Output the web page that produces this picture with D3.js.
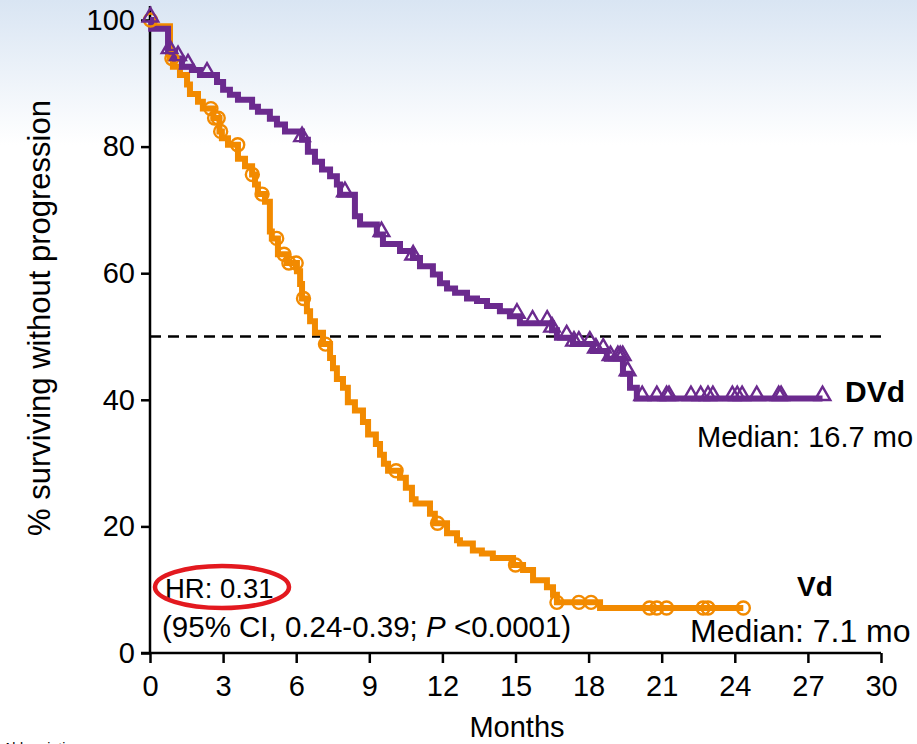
<!DOCTYPE html>
<html>
<head>
<meta charset="utf-8">
<script src="https://cdn.jsdelivr.net/npm/d3@7"></script>
<style>
  html, body { margin: 0; padding: 0; background: #fff; }
  svg { display: block; font-family: "Liberation Sans", Arial, sans-serif; }
</style>
</head>
<body>
<svg id="chart" width="917" height="744"></svg>
<script>
// ---------- DATA ----------
const xTicks = [0, 3, 6, 9, 12, 15, 18, 21, 24, 27, 30];
const yTicks = [0, 20, 40, 60, 80, 100];

// DVd step curve (months, % surviving without progression)
const dvdTimes  = [0, 0.05, 0.74, 1.03, 1.31, 1.72, 2.05, 2.75, 3.0, 3.28, 3.61, 4.19, 4.43, 4.92, 5.21, 5.54, 6.24, 6.48, 6.77, 7.06, 7.39, 7.67, 7.8, 8.41, 8.62, 9.31, 9.56, 10.26, 10.79, 11.08, 11.61, 11.9, 12.19, 12.52, 13.01, 13.42, 13.83, 14.36, 14.77, 15.18, 16.5, 16.7, 17.36, 18.18, 18.75, 19.41, 19.7, 19.98, 27.6];
const dvdValues = [100, 98.6, 95.0, 93.9, 92.6, 92.1, 91.3, 90.2, 89.0, 88.2, 87.4, 86.3, 85.5, 84.4, 83.5, 82.4, 81.1, 79.2, 77.6, 76.4, 75.3, 74.0, 72.4, 69.0, 67.7, 66.1, 64.6, 63.5, 62.4, 61.1, 59.8, 58.4, 57.6, 56.9, 56.0, 55.6, 54.8, 54.0, 53.2, 52.1, 51.0, 49.8, 48.8, 47.7, 46.5, 44.1, 41.9, 40.2, 40.2];
const dvdCensored = [0.02, 0.8, 1.15, 1.56, 2.34, 6.24, 8.0, 9.5, 10.8, 15.06, 15.7, 16.3, 16.5, 17.1, 17.4, 17.6, 18.05, 18.3, 18.6, 18.9, 19.2, 19.3, 19.4, 19.6, 20.2, 20.8, 21.2, 21.3, 22.2, 22.6, 22.9, 23.1, 23.9, 24.1, 24.3, 24.9, 25.8, 25.9, 27.6];

// Vd step curve
const vdTimes  = [0, 0.15, 0.82, 0.94, 1.23, 1.52, 1.64, 1.97, 2.17, 2.6, 2.85, 2.95, 3.2, 3.61, 3.9, 4.19, 4.31, 4.43, 4.72, 4.92, 5.0, 5.25, 5.62, 6.03, 6.16, 6.24, 6.44, 6.57, 6.77, 7.1, 7.39, 7.51, 7.67, 7.92, 8.12, 8.41, 8.74, 8.95, 9.27, 9.44, 9.6, 9.77, 10.26, 10.5, 10.75, 10.9, 11.49, 11.69, 12.19, 12.6, 12.72, 13.25, 13.62, 14.07, 14.9, 15.31, 15.72, 16.29, 16.54, 16.7, 18.47, 24.35];
const vdValues = [100, 99.0, 93.9, 92.6, 91.3, 89.8, 88.3, 87.1, 86.0, 84.5, 82.4, 81.3, 80.3, 78.1, 76.9, 75.6, 74.0, 72.5, 71.3, 66.6, 65.5, 63.0, 61.6, 60.3, 58.3, 56.0, 54.0, 52.4, 50.6, 48.8, 46.6, 45.0, 43.3, 41.9, 39.6, 38.3, 36.5, 34.5, 33.0, 31.3, 29.9, 28.8, 27.7, 26.1, 24.3, 23.6, 22.0, 20.5, 18.9, 17.8, 17.3, 16.2, 15.7, 15.0, 13.9, 13.1, 11.5, 10.4, 9.2, 8.0, 7.1, 7.1];
const vdCensored = [0.02, 0.9, 2.5, 2.65, 2.8, 2.9, 3.6, 4.2, 4.6, 5.2, 5.5, 5.7, 6.0, 6.3, 7.2, 10.1, 11.8, 15.0, 16.7, 17.6, 18.1, 20.5, 20.8, 21.2, 22.7, 22.9, 24.35];

const medianLevel = 50;

// ---------- LAYOUT ----------
const svg = d3.select("#chart");
const W = 917, H = 744;
const x = d3.scaleLinear().domain([0, 30]).range([150, 881]);
const y = d3.scaleLinear().domain([0, 100]).range([653, 20]);

const purple = "#6b2a8e";
const orange = "#f28a00";
const FS = 29;
const FONT = "Liberation Sans, Arial, sans-serif";

// background gradient
const defs = svg.append("defs");
const grad = defs.append("linearGradient").attr("id", "bg").attr("x1", 0).attr("y1", 0).attr("x2", 0).attr("y2", 1);
grad.append("stop").attr("offset", "0%").attr("stop-color", "#d9e5f3");
grad.append("stop").attr("offset", "100%").attr("stop-color", "#ffffff");
svg.append("rect").attr("x", 0).attr("y", 0).attr("width", W).attr("height", 145).attr("fill", "url(#bg)");

// median dashed line
svg.append("line")
  .attr("x1", x(0)).attr("x2", x(30))
  .attr("y1", y(medianLevel)).attr("y2", y(medianLevel))
  .attr("stroke", "#000").attr("stroke-width", 2.4).attr("stroke-dasharray", "11,7");

// axes
const yAxis = d3.axisLeft(y).tickValues(yTicks).tickSize(9).tickPadding(6);
const gy = svg.append("g").attr("transform", `translate(${x(0)},0)`).call(yAxis);
gy.select(".domain").remove();
gy.append("line").attr("x1", 0).attr("x2", 0).attr("y1", 6).attr("y2", y(0)).attr("stroke", "#000").attr("stroke-width", 2.5);
gy.selectAll(".tick line").attr("stroke", "#000").attr("stroke-width", 2.5);
gy.selectAll(".tick text").attr("font-size", FS).attr("fill", "#000").attr("font-family", FONT);

const xAxis = d3.axisBottom(x).tickValues(xTicks).tickSize(10).tickPadding(12);
const gx = svg.append("g").attr("transform", `translate(0,${y(0)})`).call(xAxis);
gx.select(".domain").remove();
gx.append("line").attr("x1", x(0) - 9).attr("x2", x(30)).attr("y1", 0).attr("y2", 0).attr("stroke", "#000").attr("stroke-width", 2.5);
gx.selectAll(".tick line").attr("stroke", "#000").attr("stroke-width", 2.5);
gx.selectAll(".tick text").attr("font-size", FS).attr("fill", "#000").attr("font-family", FONT);

// axis titles
svg.append("text").attr("x", 517).attr("y", 737).attr("text-anchor", "middle")
  .attr("font-size", FS).text("Months");
svg.append("text").attr("transform", "translate(50,318) rotate(-90)").attr("text-anchor", "middle")
  .attr("font-size", 31).text("% surviving without progression");

// step curves
function series(times, values) { return times.map((t, i) => ({ t, v: values[i] })); }
function valueAt(times, values, t) {
  let v = values[0];
  for (let i = 0; i < times.length; i++) { if (times[i] <= t) v = values[i]; }
  return v;
}
const line = d3.line().x(d => x(d.t)).y(d => y(d.v)).curve(d3.curveStepAfter);

function drawCurve(times, values, color) {
  svg.append("path").datum(series(times, values))
    .attr("fill", "none").attr("stroke", color).attr("stroke-width", 6)
    .attr("stroke-linejoin", "miter").attr("d", line);
}
drawCurve(vdTimes, vdValues, orange);
drawCurve(dvdTimes, dvdValues, purple);

// censor marks
svg.append("g").selectAll("circle").data(vdCensored).join("circle")
  .attr("cx", d => x(d)).attr("cy", d => y(valueAt(vdTimes, vdValues, d)))
  .attr("r", 6.5).attr("fill", "none").attr("stroke", orange).attr("stroke-width", 2.4);

const tri = d3.symbol().type(d3.symbolTriangle).size(105);
svg.append("g").selectAll("path").data(dvdCensored).join("path")
  .attr("transform", d => `translate(${x(d)},${y(valueAt(dvdTimes, dvdValues, d)) - 3})`)
  .attr("d", tri).attr("fill", "none").attr("stroke", purple).attr("stroke-width", 2.4);

// annotations
svg.append("text").attr("x", 845).attr("y", 402).attr("font-size", 30).attr("font-weight", "bold").text("DVd");
svg.append("text").attr("x", 697).attr("y", 447).attr("font-size", FS).text("Median: 16.7 mo");
svg.append("text").attr("x", 797).attr("y", 596).attr("font-size", 28).attr("font-weight", "bold").text("Vd");
svg.append("text").attr("x", 690).attr("y", 642).attr("font-size", 32).text("Median: 7.1 mo");

svg.append("text").attr("x", 165).attr("y", 598).attr("font-size", 27.5).text("HR: 0.31");
const ci = svg.append("text").attr("x", 162).attr("y", 637).attr("font-size", 29.5);
ci.append("tspan").text("(95% CI, 0.24-0.39; ");
ci.append("tspan").attr("font-style", "italic").text("P");
ci.append("tspan").text(" <0.0001)");

svg.append("ellipse").attr("cx", 222).attr("cy", 587).attr("rx", 67).attr("ry", 21)
  .attr("fill", "none").attr("stroke", "#e3191f").attr("stroke-width", 4.5);

svg.append("text").attr("x", 3).attr("y", 753).attr("font-size", 14).text("Abbreviations");
</script>
</body>
</html>
